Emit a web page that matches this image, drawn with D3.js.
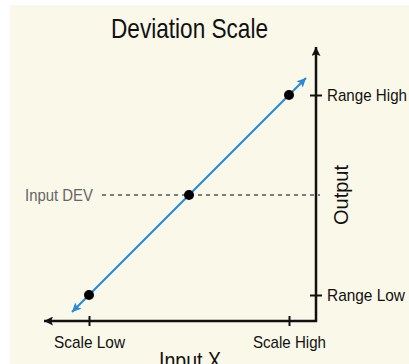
<!DOCTYPE html>
<html>
<head>
<meta charset="utf-8">
<script src="https://cdn.jsdelivr.net/npm/d3@7"></script>
<style>
html,body{margin:0;padding:0;background:#fff;}
svg{display:block;}
text{font-family:"Liberation Sans",Arial,sans-serif;}
</style>
</head>
<body>
<script>
const width=409, height=364;
const title="Deviation Scale";
const xTicks=[0,1], xTickLabels=["Scale Low","Scale High"];
const yTicks=[0,1], yTickLabels=["Range Low","Range High"];
const points=[[0,0],[0.5,0.5],[1,1]];
const lineExtent=[-0.085,1.085];
const devValue=0.5;

const x=d3.scaleLinear().domain([0,1]).range([89,289]);
const y=d3.scaleLinear().domain([0,1]).range([295,95]);
const axisX=316, axisY=321;
const FONT='"Liberation Sans",Arial,sans-serif';

const svg=d3.select("body").append("svg")
  .attr("width",width).attr("height",height);

svg.append("rect").attr("x",10).attr("y",5)
  .attr("width",width-10).attr("height",height-5).attr("fill","#faf8e9");

const defs=svg.append("defs");
function arrow(id,color,w,h){
  defs.append("marker").attr("id",id)
    .attr("viewBox","0 0 10 10").attr("refX",10).attr("refY",5)
    .attr("markerUnits","userSpaceOnUse")
    .attr("markerWidth",w).attr("markerHeight",h).attr("orient","auto-start-reverse")
    .append("path").attr("d","M0,0 L10,5 L0,10 L2,5 Z").attr("fill",color);
}
arrow("blk","#111",13,9);
arrow("blu","#2a8bd1",12,9);

// condensed look: squeeze text to the reference widths
function narrow(sel,w){ sel.attr("textLength",w).attr("lengthAdjust","spacingAndGlyphs"); }

svg.append("text").attr("x",189.5).attr("y",38).attr("text-anchor","middle")
  .attr("font-size",28).attr("fill","#111").text(title).call(narrow,157);

// dashed input line
svg.append("line").attr("x1",102).attr("x2",axisX+4)
  .attr("y1",y(devValue)).attr("y2",y(devValue))
  .attr("stroke","#555").attr("stroke-width",1.6).attr("stroke-dasharray","4,4");
svg.append("text").attr("x",93).attr("y",y(devValue)).attr("dy","0.35em")
  .attr("text-anchor","end").attr("font-size",17).attr("fill","#666")
  .text("Input DEV").call(narrow,68);

// axes
svg.append("line").attr("x1",axisX+1).attr("x2",44).attr("y1",axisY).attr("y2",axisY)
  .attr("stroke","#111").attr("stroke-width",2.5).attr("marker-end","url(#blk)");
svg.append("line").attr("x1",axisX).attr("x2",axisX).attr("y1",axisY+1).attr("y2",47)
  .attr("stroke","#111").attr("stroke-width",2.5).attr("marker-end","url(#blk)");

const xW=[71,73], yW=[78,80];
const xAxis=d3.axisBottom(x).tickValues(xTicks).tickFormat((d,i)=>xTickLabels[i])
  .tickSize(5).tickPadding(10);
const gx=svg.append("g").attr("transform",`translate(0,${axisY})`).call(xAxis);
gx.select(".domain").remove();
gx.selectAll(".tick line").attr("y1",-5).attr("stroke","#111").attr("stroke-width",2);
gx.selectAll(".tick text").attr("font-size",17).attr("fill","#111")
  .style("font-family",FONT).each(function(d,i){ d3.select(this).call(narrow,xW[i]); });

const yAxis=d3.axisRight(y).tickValues(yTicks).tickFormat((d,i)=>yTickLabels[i])
  .tickSize(6).tickPadding(5);
const gy=svg.append("g").attr("transform",`translate(${axisX},0)`).call(yAxis);
gy.select(".domain").remove();
gy.selectAll(".tick line").attr("x1",-6).attr("stroke","#111").attr("stroke-width",2);
gy.selectAll(".tick text").attr("font-size",17).attr("fill","#111")
  .style("font-family",FONT).each(function(d,i){ d3.select(this).call(narrow,yW[i]); });

svg.append("text").attr("transform",`translate(341,195) rotate(-90)`)
  .attr("text-anchor","middle").attr("dy","0.35em")
  .attr("font-size",20).attr("fill","#111").text("Output").call(narrow,60);
svg.append("text").attr("x",190).attr("y",369).attr("text-anchor","middle")
  .attr("font-size",23).attr("fill","#111").text("Input X").call(narrow,62);

// blue line with arrows at both ends
svg.append("line").attr("x1",x(lineExtent[0])).attr("y1",y(lineExtent[0]))
  .attr("x2",x(lineExtent[1])).attr("y2",y(lineExtent[1]))
  .attr("stroke","#2a8bd1").attr("stroke-width",2.2)
  .attr("marker-start","url(#blu)").attr("marker-end","url(#blu)");

svg.selectAll("circle.pt").data(points).join("circle").attr("class","pt")
  .attr("cx",d=>x(d[0])).attr("cy",d=>y(d[1])).attr("r",5).attr("fill","#000");
</script>
</body>
</html>
